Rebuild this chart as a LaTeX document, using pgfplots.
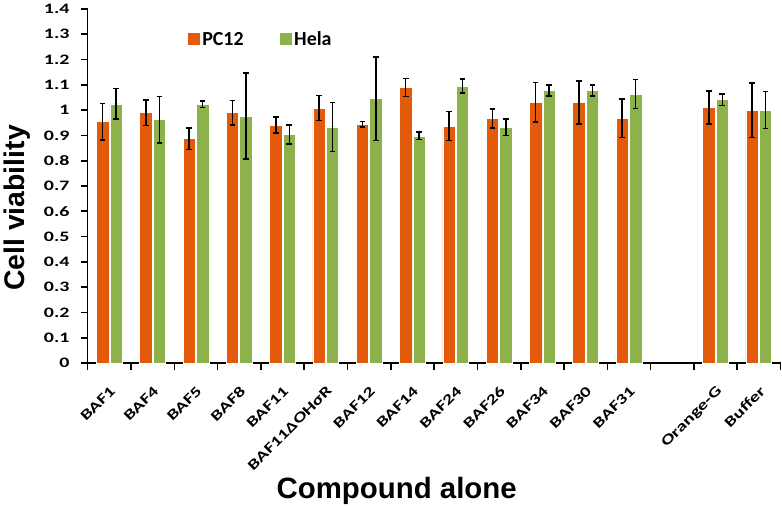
\documentclass[border=0pt]{standalone}
\usepackage{fontspec}
\setmainfont{Carlito}
\newfontfamily\tickfont{Carlito}[FakeStretch=1.38]
\newfontfamily\arialfont{Liberation Sans}
\usepackage{pgfplots}
\pgfplotsset{compat=1.18}
\definecolor{pcorange}{RGB}{226,90,10}
\definecolor{helagreen}{RGB}{141,177,75}
\begin{document}
\begin{tikzpicture}
\useasboundingbox (-87.7bp,-144bp) rectangle (694.3bp,363bp);
\begin{axis}[
  at={(0,0)}, anchor=south west,
  scale only axis,
  width=692.8bp, height=354bp,
  xmin=-0.5, xmax=15.5,
  ymin=0, ymax=1.4,
  axis x line*=bottom, axis y line*=left,
  axis line style={line width=1.6bp, black, -},
  every tick/.style={line width=1.6bp, black},
  tick align=outside,
  major tick length=7bp,
  minor tick length=7bp,
  ytick={0,0.1,0.2,0.3,0.4,0.5,0.6,0.7,0.8,0.9,1,1.1,1.2,1.3,1.4},
  /pgf/number format/assume math mode=true,
  /pgf/number format/.cd, fixed, precision=1, /pgfplots/.cd,
  yticklabel style={font=\tickfont\fontsize{14.5}{16}\selectfont\bfseries, inner sep=0pt, xshift=-11bp},
  xtick={0,1,2,3,4,5,6,7,8,9,10,11,12,14,15},
  xticklabels={BAF1,BAF4,BAF5,BAF8,BAF11,BAF11ΔOHσR,BAF12,BAF14,BAF24,BAF26,BAF34,BAF30,BAF31,Orange-G,Buffer},
  major x tick style={draw=none},
  minor xtick={-0.5,0.5,...,15.5},
  xticklabel style={xshift=0bp, yshift=-15bp, rotate=45, anchor=north east, font=\tickfont\fontsize{14.5}{16}\selectfont\bfseries, inner sep=0pt},
  ylabel={Cell viability},
  ylabel style={at={(axis description cs:-0.0906,0.438)}, anchor=base, rotate=0, font=\arialfont\fontsize{28.5}{30}\selectfont\bfseries, inner sep=0pt},
  xlabel={Compound alone},
  xlabel style={at={(axis description cs:0.446,-0.384)}, anchor=base, font=\arialfont\fontsize{29.5}{31}\selectfont\bfseries, inner sep=0pt},
  ybar,
  bar width=0.285,
  legend image code/.code={\fill[#1, draw=none] (0bp,-6bp) rectangle (12bp,6bp);},
  legend style={at={(axis description cs:0.145,0.942)}, anchor=north west, draw=none, fill=none,
    font=\fontsize{20}{22}\selectfont\bfseries, inner sep=0pt,
    /tikz/every even column/.append style={column sep=34.5bp}},
  legend columns=2,
  legend cell align=left,
]
\addplot+[bar shift=-0.155, fill=pcorange, draw=white, line width=0.6bp,
  error bars/.cd, y dir=both, y explicit,
  error bar style={line width=1.5bp, black},
  error mark options={rotate=90, mark size=2.8bp, line width=1.5bp, black}]
coordinates {
(0,0.954) +- (0,0.072)
(1,0.990) +- (0,0.050)
(2,0.887) +- (0,0.042)
(3,0.990) +- (0,0.048)
(4,0.941) +- (0,0.032)
(5,1.008) +- (0,0.049)
(6,0.945) +- (0,0.011)
(7,1.089) +- (0,0.036)
(8,0.937) +- (0,0.057)
(9,0.967) +- (0,0.038)
(10,1.032) +- (0,0.078)
(11,1.030) +- (0,0.085)
(12,0.968) +- (0,0.076)
(14,1.010) +- (0,0.065)
(15,1.000) +- (0,0.108)
};
\addlegendentry{PC12}
\addplot+[bar shift=0.155, fill=helagreen, draw=white, line width=0.6bp,
  error bars/.cd, y dir=both, y explicit,
  error bar style={line width=1.5bp, black},
  error mark options={rotate=90, mark size=2.8bp, line width=1.5bp, black}]
coordinates {
(0,1.025) +- (0,0.060)
(1,0.962) +- (0,0.091)
(2,1.024) +- (0,0.013)
(3,0.976) +- (0,0.170)
(4,0.904) +- (0,0.037)
(5,0.934) +- (0,0.097)
(6,1.045) +- (0,0.166)
(7,0.898) +- (0,0.015)
(8,1.096) +- (0,0.028)
(9,0.932) +- (0,0.032)
(10,1.078) +- (0,0.022)
(11,1.078) +- (0,0.022)
(12,1.064) +- (0,0.058)
(14,1.041) +- (0,0.022)
(15,1.000) +- (0,0.073)
};
\addlegendentry{Hela}
\end{axis}
\end{tikzpicture}
\end{document}
